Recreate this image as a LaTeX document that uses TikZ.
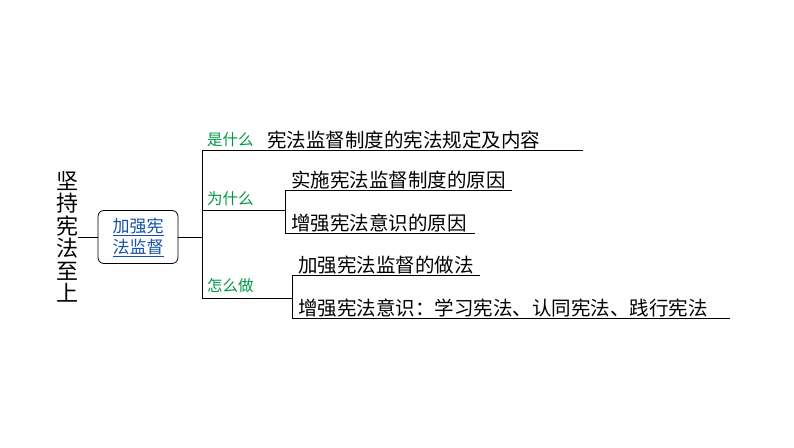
\documentclass[tikz,border=0pt]{standalone}
\usepackage{fontspec}
\setmainfont{Noto Sans CJK SC}
\usetikzlibrary{positioning}
\definecolor{qgreen}{RGB}{0,150,70}
\definecolor{qblue}{RGB}{20,80,170}
\tikzset{
    item/.style = {anchor=south west, inner sep=1pt, font=\fontsize{19.5}{20}\selectfont},
    ask/.style = {anchor=south west, inner sep=1pt, text=qgreen, font=\fontsize{15.5}{16}\selectfont},
    topic/.style = {draw, rounded corners=6pt, thick, minimum width=80pt, minimum height=53pt,
        align=center, text=qblue, font=\fontsize{17}{21}\selectfont},
    link/.style = {draw, thick}
}
\begin{document}
\begin{tikzpicture}[x=1pt, y=-1pt]
    \useasboundingbox (0,0) rectangle (794,447);
    % title
    \node [align=center, font=\fontsize{22}{22.5}\selectfont, name=title] at (67,237)
        {坚\\持\\宪\\法\\至\\上};
    \node [topic, name=box] at (138,237) {\underline{加强宪}\\\underline{法监督}};
    \coordinate (t) at (78,237);
    \draw [link] (t) -- (box.west);
    \coordinate (hub) at (202,237);
    \draw [link] (box.east) -- (hub);
    % trunk
    \coordinate (top) at (202,150);
    \coordinate (mid) at (202,210);
    \coordinate (bot) at (202,298);
    \draw [link] (top) -- (bot);
    % what
    \coordinate (topend) at (583,150);
    \draw [link] (top) -- (topend);
    \node [ask, name=what] at (206,148) {是什么};
    \node [item, name=what1] at (266,150) {宪法监督制度的宪法规定及内容};
    % why
    \coordinate (wj) at (285,210);
    \draw [link] (mid) -- (wj);
    \node [ask, name=why] at (206,207) {为什么};
    \coordinate (wa) at (285,190); \coordinate (wae) at (512,190);
    \coordinate (wb) at (285,233); \coordinate (wbe) at (475,233);
    \draw [link] (wa) -- (wb);
    \draw [link] (wa) -- (wae);
    \draw [link] (wb) -- (wbe);
    \node [item, name=why1] at (290,190) {实施宪法监督制度的原因};
    \node [item, name=why2] at (290,233) {增强宪法意识的原因};
    % how
    \coordinate (hj) at (292,298);
    \draw [link] (bot) -- (hj);
    \node [ask, name=how] at (206,294) {怎么做};
    \coordinate (ha) at (292,275); \coordinate (hae) at (480,275);
    \coordinate (hb) at (292,318); \coordinate (hbe) at (730,318);
    \draw [link] (ha) -- (hb);
    \draw [link] (ha) -- (hae);
    \draw [link] (hb) -- (hbe);
    \node [item, name=how1] at (297,275) {加强宪法监督的做法};
    \node [item, name=how2] at (297,318) {增强宪法意识：学习宪法、认同宪法、践行宪法};
\end{tikzpicture}
\end{document}
